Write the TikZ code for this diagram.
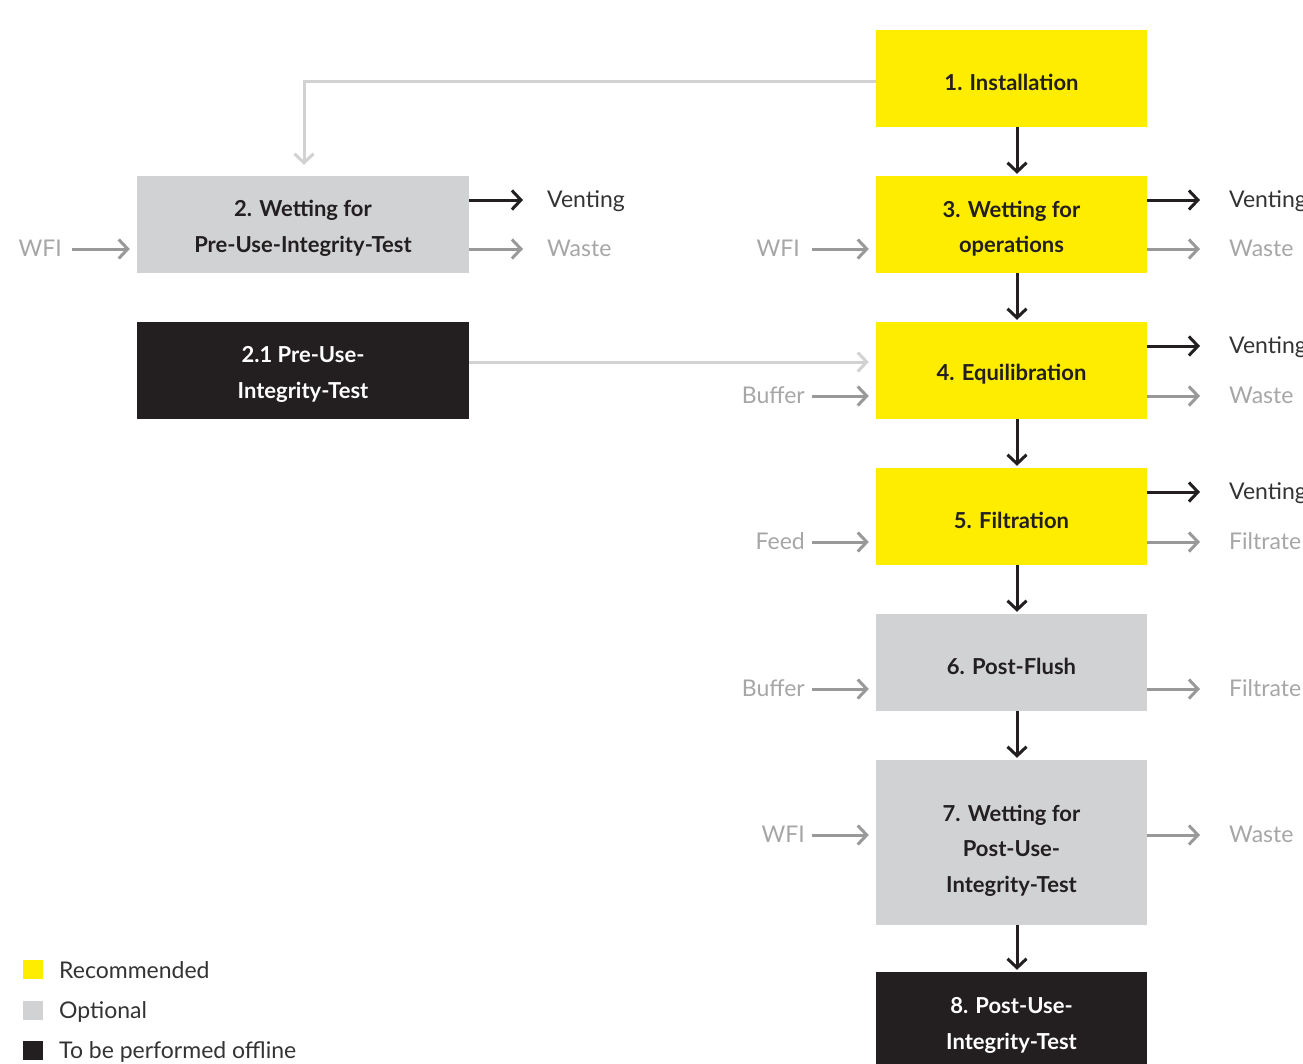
\documentclass[tikz,border=0pt]{standalone}
\usepackage{fontspec}
\setmainfont{Lato}
\usetikzlibrary{arrows.meta}
\definecolor{yel}{HTML}{FFED00}
\definecolor{opt}{HTML}{D1D2D4}
\definecolor{off}{HTML}{231F20}
\definecolor{lgray}{HTML}{D2D2D2}
\definecolor{mgray}{HTML}{999999}
\definecolor{tgray}{HTML}{A6A6A6}
\definecolor{ttext}{HTML}{333333}
\begin{document}
\begin{tikzpicture}[x=1pt,y=-1pt,
  boxtxt/.style={inner sep=0pt, align=center, yshift=-4pt,
    font=\fontsize{22}{35.5}\selectfont\bfseries},
  box/.style={minimum height=97pt, inner sep=0pt},
  wide/.style={box, minimum width=271pt},
  widel/.style={box, minimum width=332pt},
  recbox/.style={fill=yel},
  optbox/.style={fill=opt},
  offbox/.style={fill=off},
  dtxt/.style={label={[boxtxt, text=off]center:#1}},
  wtxt/.style={label={[boxtxt, text=white]center:#1}},
  lbl/.style={inner sep=0pt, text height=15pt, text depth=0pt,
    font=\fontsize{23}{27}\selectfont},
  dlbl/.style={lbl, text=ttext},
  glbl/.style={lbl, text=tgray},
  arr/.style={line width=3pt, -{Straight Barb[length=9pt,width=19pt]}},
  blk/.style={arr, draw=off},
  gry/.style={arr, draw=mgray},
  lgy/.style={arr, draw=lgray},
  legsq/.style={minimum width=20pt, minimum height=19pt, inner sep=0pt},
  leglbl/.style={lbl, text=ttext, anchor=west}
]
\useasboundingbox (0,0) rectangle (1303,1063);

% main boxes
\node[wide, recbox, dtxt={1. Installation}] (b1) at (1011.5,78.5) {};
\node[wide, recbox, dtxt={3. Wetting for\\operations}] (b3) at (1011.5,224.5) {};
\node[wide, recbox, dtxt={4. Equilibration}] (b4) at (1011.5,370.5) {};
\node[wide, recbox, dtxt={5. Filtration}] (b5) at (1011.5,516.5) {};
\node[wide, optbox, dtxt={6. Post-Flush}] (b6) at (1011.5,662.5) {};
\node[wide, optbox, minimum height=165pt,
  label={[boxtxt, text=off, yshift=-4pt]center:7. Wetting for\\Post-Use-\\Integrity-Test}] (b7) at (1011.5,842.5) {};
\node[wide, offbox, minimum height=94pt,
  label={[boxtxt, text=white, yshift=-2.5pt]center:8. Post-Use-\\Integrity-Test}] (b8) at (1011.5,1019) {};
\node[widel, optbox, dtxt={2. Wetting for\\Pre-Use-Integrity-Test}] (b2) at (303,224.5) {};
\node[widel, offbox, wtxt={2.1 Pre-Use-\\Integrity-Test}] (b21) at (303,370.5) {};
\fill[off] (b8.south west) rectangle ([yshift=-10pt]b8.south east);

% vertical flow
\draw[blk, shorten >=2pt] ([xshift=5.5pt]b1.south) -- ([xshift=5.5pt]b3.north);
\draw[blk, shorten >=2pt] ([xshift=5.5pt]b3.south) -- ([xshift=5.5pt]b4.north);
\draw[blk, shorten >=2pt] ([xshift=5.5pt]b4.south) -- ([xshift=5.5pt]b5.north);
\draw[blk, shorten >=2pt] ([xshift=5.5pt]b5.south) -- ([xshift=5.5pt]b6.north);
\draw[blk, shorten >=2pt] ([xshift=5.5pt]b6.south) -- ([xshift=5.5pt]b7.north);
\draw[blk, shorten >=2pt] ([xshift=5.5pt]b7.south) -- ([xshift=5.5pt]b8.north);

% light gray connections
\draw[lgy, shorten >=11pt] ([yshift=-2.5pt]b1.west) -| ([xshift=1pt]b2.north);
\draw[lgy, shorten >=7pt] ([yshift=8.5pt]b21.east) -- ([yshift=8.5pt]b4.west);

% right-side labels
\node[dlbl, anchor=west] (v2) at (547,200) {Venting};
\node[glbl, anchor=west] (w2) at (547,249) {Waste};
\node[dlbl, anchor=west] (v3) at (1229,200) {Venting};
\node[glbl, anchor=west] (w3) at (1229,249) {Waste};
\node[dlbl, anchor=west] (v4) at (1229,346) {Venting};
\node[glbl, anchor=west] (w4) at (1229,396) {Waste};
\node[dlbl, anchor=west] (v5) at (1229,492) {Venting};
\node[glbl, anchor=west] (f5) at (1229,542) {Filtrate};
\node[glbl, anchor=west] (f6) at (1229,689) {Filtrate};
\node[glbl, anchor=west] (w7) at (1229,835) {Waste};

\draw[blk, shorten >=24pt] (b2.east |- v2.west) -- (v2.west);
\draw[gry, shorten >=24pt] (b2.east |- w2.west) -- (w2.west);
\draw[blk, shorten >=29pt] (b3.east |- v3.west) -- (v3.west);
\draw[gry, shorten >=29pt] (b3.east |- w3.west) -- (w3.west);
\draw[blk, shorten >=29pt] (b4.east |- v4.west) -- (v4.west);
\draw[gry, shorten >=29pt] (b4.east |- w4.west) -- (w4.west);
\draw[blk, shorten >=29pt] (b5.east |- v5.west) -- (v5.west);
\draw[gry, shorten >=29pt] (b5.east |- f5.west) -- (f5.west);
\draw[gry, shorten >=29pt] (b6.east |- f6.west) -- (f6.west);
\draw[gry, shorten >=29pt] (b7.east |- w7.west) -- (w7.west);

% left-side inputs
\node[glbl, anchor=east] (i2) at (62,249) {WFI};
\node[glbl, anchor=east] (i3) at (800,249) {WFI};
\node[glbl, anchor=east] (i4) at (805,396) {Buffer};
\node[glbl, anchor=east] (i5) at (805,542) {Feed};
\node[glbl, anchor=east] (i6) at (805,689) {Buffer};
\node[glbl, anchor=east] (i7) at (805,835) {WFI};

\draw[gry, shorten <=10pt, shorten >=7pt] (i2.east) -- (b2.west |- i2.east);
\draw[gry, shorten <=12pt, shorten >=7pt] (i3.east) -- (b3.west |- i3.east);
\draw[gry, shorten <=7pt, shorten >=7pt] (i4.east) -- (b4.west |- i4.east);
\draw[gry, shorten <=7pt, shorten >=7pt] (i5.east) -- (b5.west |- i5.east);
\draw[gry, shorten <=7pt, shorten >=7pt] (i6.east) -- (b6.west |- i6.east);
\draw[gry, shorten <=7pt, shorten >=7pt] (i7.east) -- (b7.west |- i7.east);

% legend
\node[legsq, fill=yel] (s1) at (33,969.5) {};
\node[legsq, fill=opt] (s2) at (33,1010.5) {};
\node[legsq, fill=off] (s3) at (33,1050.5) {};
\node[leglbl] (t1) at (59,971) {Recommended};
\node[leglbl] (t2) at (59,1011) {Optional};
\node[leglbl] (t3) at (59,1051) {To be performed offline};
\end{tikzpicture}
\end{document}
